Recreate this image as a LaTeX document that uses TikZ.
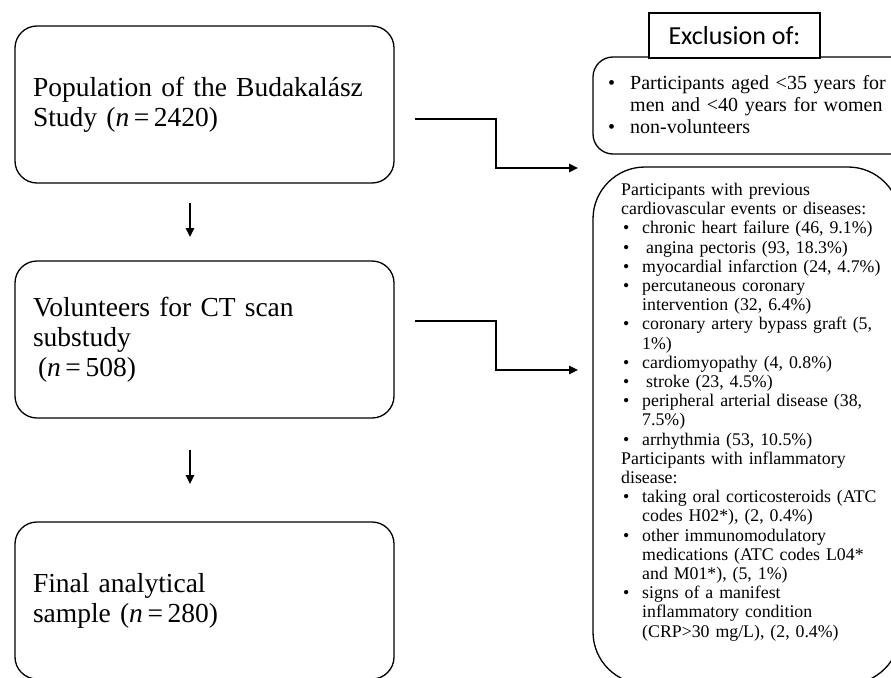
\documentclass[tikz,border=0pt]{standalone}
\usepackage{fontspec}
\setmainfont{Liberation Serif}
\newfontfamily\calib{Carlito}
\usetikzlibrary{arrows.meta}
\newcommand{\bl}[1]{\makebox[#1][l]{\hspace{2pt}\textbullet}}
\newcommand{\ct}[1]{\hspace*{#1}}
\begin{document}
\begin{tikzpicture}[x=1pt,y=-1pt,
  leftbox/.style={draw, line width=1.3pt, rounded corners=22pt, minimum width=379pt, minimum height=157pt,
    text width=343pt, inner xsep=18pt, inner ysep=0pt, outer sep=0pt, align=left, font=\fontsize{27.5}{30}\selectfont},
  frame/.style={draw, line width=1.3pt, outer sep=0pt, inner sep=0pt, anchor=north west},
  arr/.style={line width=1.3pt, -{Triangle[length=9pt,width=8.5pt]}},
  listtxt/.style={anchor=north west, inner sep=0pt, align=left, text width=285pt}]
\useasboundingbox (0,0) rectangle (891,677);
\clip (0,0) rectangle (891,677);

% left column
\node[leftbox] (pop) at (204.5,104.5) {Population of the Budakalász\\Study (\textit{n}\,=\,2420)};
\node[leftbox] (vol) at (204.5,339.5) {Volunteers for CT scan\\substudy\\\hspace*{5pt}(\textit{n}\,=\,508)};
\node[leftbox] (fin) at (204.5,600.5) {Final analytical\\sample (\textit{n}\,=\,280)};

\coordinate (d1s) at (190,203);
\coordinate (d1e) at (190,237);
\coordinate (d2s) at (190,450);
\coordinate (d2e) at (190,484);
\draw[arr] (d1s) -- (d1e);
\draw[arr] (d2s) -- (d2e);

% right column frames
\node[frame, rounded corners=20pt, minimum width=330pt, minimum height=97pt] (agebox) at (593,57) {};
\node[frame, rounded corners=52pt, minimum width=307pt, minimum height=517pt] (cvbox) at (593,167) {};
\node[draw, line width=1.1pt, fill=white, outer sep=0pt, minimum width=171pt, minimum height=45pt,
  font=\calib\fontsize{26}{30}\selectfont] (excl) at (734.5,35.5) {Exclusion of:};

% elbow connectors
\coordinate (e1s) at (415,119);
\coordinate (e1e) at (578,168);
\coordinate (e2s) at (415,321);
\coordinate (e2e) at (578,370);
\draw[arr] (e1s) -- ++(81,0) |- (e1e);
\draw[arr] (e2s) -- ++(81,0) |- (e2e);

% right column texts
\node[listtxt, font=\fontsize{20}{22}\selectfont] (agetxt) at (606,75)
 {\bl{24pt}Participants aged <35 years for\\
  \ct{24pt}men and <40 years for women\\
  \bl{24pt}non-volunteers};

\node[listtxt, font=\fontsize{17.8}{19.2}\selectfont] (cvtxt) at (621,183)
 {Participants with previous\\
  cardiovascular events or diseases:\\
  \bl{21pt}chronic heart failure (46, 9.1\%)\\
  \bl{21pt}\hspace{4pt}angina pectoris (93, 18.3\%)\\
  \bl{21pt}myocardial infarction (24, 4.7\%)\\
  \bl{21pt}percutaneous coronary\\
  \ct{21pt}intervention (32, 6.4\%)\\
  \bl{21pt}coronary artery bypass graft (5,\\
  \ct{21pt}1\%)\\
  \bl{21pt}cardiomyopathy (4, 0.8\%)\\
  \bl{21pt}\hspace{4pt}stroke (23, 4.5\%)\\
  \bl{21pt}peripheral arterial disease (38,\\
  \ct{21pt}7.5\%)\\
  \bl{21pt}arrhythmia (53, 10.5\%)\\
  Participants with inflammatory\\
  disease:\\
  \bl{21pt}taking oral corticosteroids (ATC\\
  \ct{21pt}codes H02*), (2, 0.4\%)\\
  \bl{21pt}other immunomodulatory\\
  \ct{21pt}medications (ATC codes L04*\\
  \ct{21pt}and M01*), (5, 1\%)\\
  \bl{21pt}signs of a manifest\\
  \ct{21pt}inflammatory condition\\
  \ct{21pt}(CRP>30 mg/L), (2, 0.4\%)};
\end{tikzpicture}
\end{document}
